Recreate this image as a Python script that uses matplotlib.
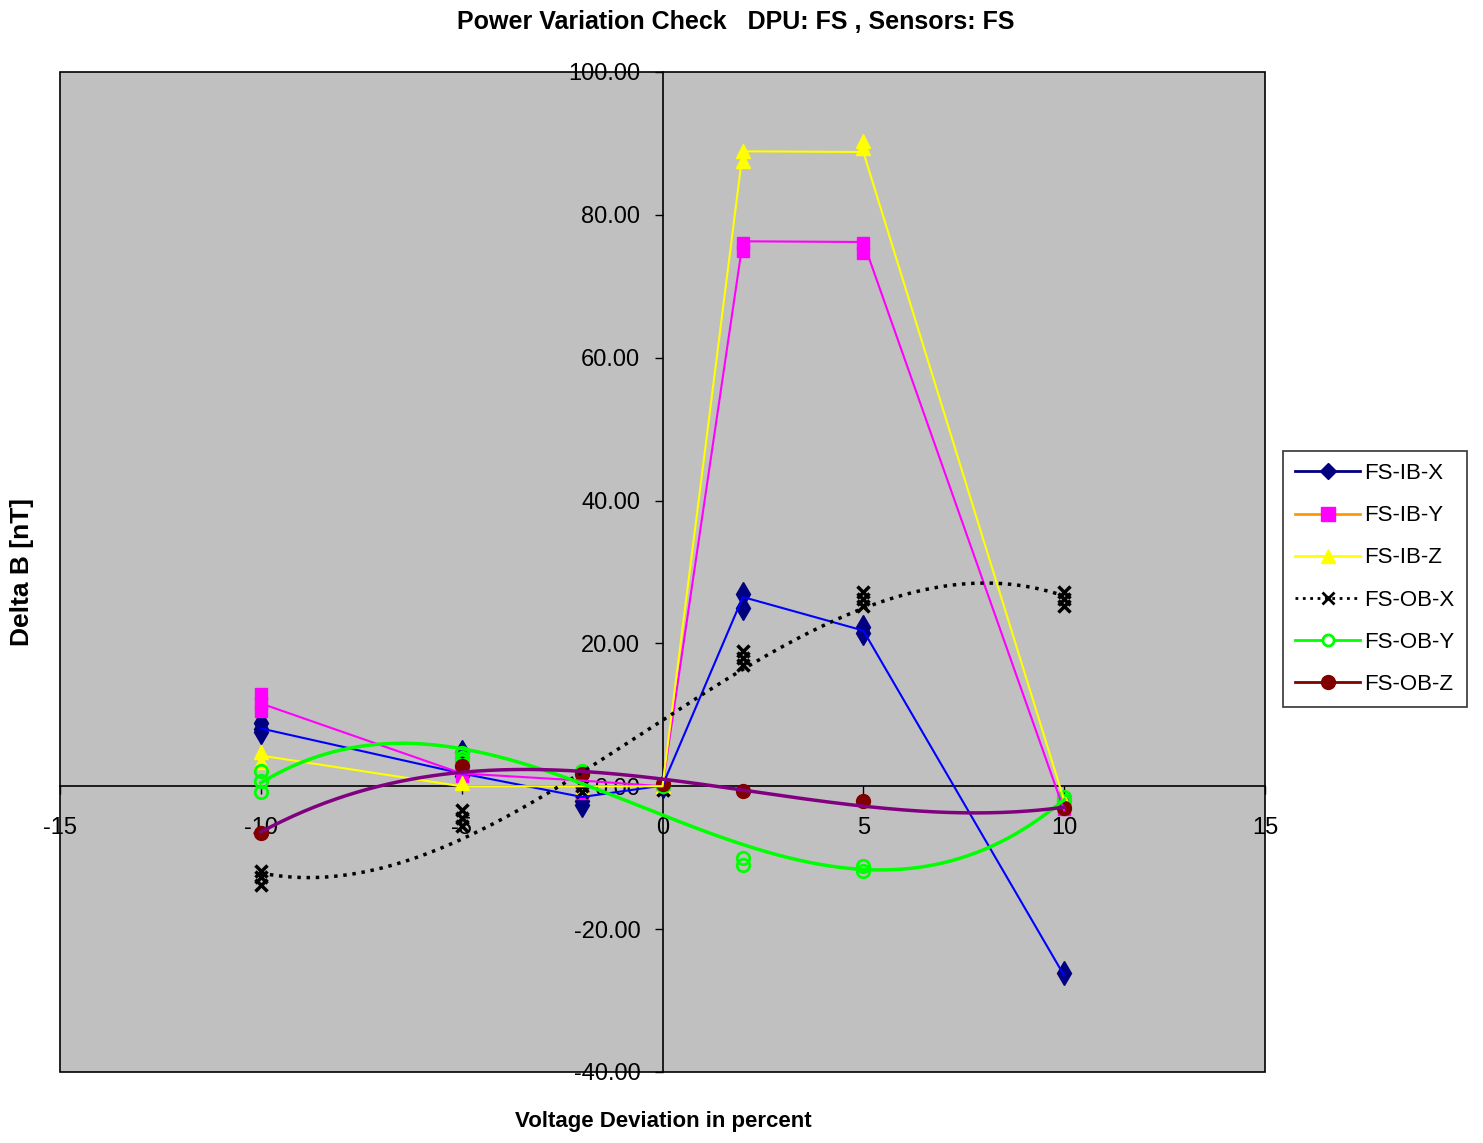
import numpy as np
import matplotlib
matplotlib.use("Agg")
import matplotlib.pyplot as plt
from matplotlib.lines import Line2D
from matplotlib.patches import Rectangle

# Voltage steps (percent) and the readings taken at each step
volt = [-10, -5, -2, 0, 2, 5, 10]

ib_x = [[8.8, 8.0, 7.6], [4.8, 1.5], [-2.0, -2.6], [0.0], [26.9, 24.9], [22.3, 21.4], [-26.2]]
ib_y = [[12.9, 11.7, 10.5], [1.5], [-1.0], [0.0], [76.0, 74.9], [76.0, 74.6], [-3.2, -2.5]]
ib_z = [[4.8, 3.4], [0.5], [-0.3], [0.0], [89.0, 87.6], [90.3, 89.3], [-2.0]]
ob_x = [[-11.8, -12.7, -13.8], [-3.3, -4.5, -5.5], [0.0, -0.8], [-0.5], [19.0, 18.0, 17.0], [27.2, 26.2, 25.3], [27.2, 26.2, 25.2]]
ob_y = [[2.2, 0.7, -0.8], [4.6, 4.0, 3.5], [2.1, 1.8], [0.0], [-10.1, -11.0], [-11.1, -11.8], [-1.5, -2.0]]
ob_z = [[-6.6], [2.8], [1.7], [0.3], [-0.6], [-2.1], [-3.1]]

# average lines drawn for the IB sensors
ib_x_avg = [8.1, 1.8, -1.5, 0.1, 26.5, 21.8, -26.5]
ib_y_avg = [11.6, 1.8, 0.8, 0.0, 76.3, 76.2, -3.4]
ib_z_avg = [4.3, 0.0, 0.0, 0.0, 88.9, 88.8, -2.0]


def flat(readings):
    xs, ys = [], []
    for v, vals in zip(volt, readings):
        xs += [v] * len(vals)
        ys += vals
    return np.array(xs, float), np.array(ys, float)


plt.rcParams['font.family'] = ['Liberation Sans', 'DejaVu Sans']
plt.rcParams['axes.unicode_minus'] = False

fig = plt.figure(figsize=(14.83, 11.43), dpi=100)
ax = fig.add_axes([60 / 1483, 1 - 1072 / 1143, 1205 / 1483, 1000 / 1143])
ax.set_facecolor('#C0C0C0')

# markers
styles = [
    (ib_x, dict(marker='d', color='#000080', ms=12, mec='#000080')),
    (ib_y, dict(marker='s', color='#FF00FF', ms=9, mec='#FF00FF')),
    (ib_z, dict(marker='^', color='#FFFF00', ms=10, mec='#FFFF00')),
    (ob_x, dict(marker='x', color='black', ms=9, mew=2.5)),
    (ob_y, dict(marker='o', color='#00FF00', ms=9, mfc='none', mew=2)),
    (ob_z, dict(marker='o', color='#800000', ms=10, mec='#800000')),
]
for data, st in styles:
    xs, ys = flat(data)
    ax.plot(xs, ys, linestyle='none', zorder=3, **st)

# averages
ax.plot(volt, ib_x_avg, color='#0000FF', lw=1.5, zorder=4)
ax.plot(volt, ib_y_avg, color='#FF00FF', lw=1.5, zorder=4)
ax.plot(volt, ib_z_avg, color='#FFFF00', lw=1.5, zorder=4)

# cubic trendlines for OB sensors
xx = np.linspace(-10, 10, 300)
for data, col, ls in [(ob_x, 'black', ':'), (ob_y, '#00FF00', '-'), (ob_z, '#800080', '-')]:
    xs, ys = flat(data)
    coef = np.polyfit(xs, ys, 3)
    ax.plot(xx, np.polyval(coef, xx), color=col, ls=ls, lw=2.5, zorder=4)

ax.set_xlim(-15, 15)
ax.set_ylim(-40, 100)
ax.set_xticks([-15, -10, -5, 0, 5, 10, 15])
ax.set_yticks(np.arange(-40, 101, 20))
ax.set_yticklabels([f"{v:.2f}" for v in np.arange(-40, 101, 20)])

ax.spines['left'].set_position(('data', 0))
ax.spines['bottom'].set_position(('data', 0))
ax.spines['top'].set_visible(False)
ax.spines['right'].set_visible(False)
for s in ['left', 'bottom']:
    ax.spines[s].set_linewidth(1.2)
ax.add_patch(Rectangle((0, 0), 1, 1, transform=ax.transAxes, fill=False,
                       edgecolor='black', lw=1.2, zorder=5, clip_on=False))
ax.tick_params(axis='both', labelsize=17, direction='out', length=6, width=1)
ax.tick_params(axis='x', pad=16)
ax.tick_params(axis='y', pad=10)

fig.text(0.496, 0.981, "Power Variation Check   DPU: FS , Sensors: FS",
         ha='center', va='center', fontsize=18, fontweight='bold')
fig.text(0.447, 0.019, "Voltage Deviation in percent", ha='center', va='center',
         fontsize=16, fontweight='bold')
fig.text(0.015, 0.5, "Delta B [nT]", rotation=90, ha='center', va='center',
         fontsize=19, fontweight='bold')

handles = [
    Line2D([], [], color='#000080', marker='D', ms=8, lw=2),
    Line2D([], [], color='#FF9900', marker='s', ms=10, mfc='#FF00FF', mec='#FF00FF', lw=2),
    Line2D([], [], color='#FFFF00', marker='^', ms=10, lw=2),
    Line2D([], [], color='black', marker='x', ms=9, mew=2, lw=2, ls=':'),
    Line2D([], [], color='#00FF00', marker='o', ms=8, mfc='white', mew=2, lw=2),
    Line2D([], [], color='#800000', marker='o', ms=10, lw=2),
]
labels = ['FS-IB-X', 'FS-IB-Y', 'FS-IB-Z', 'FS-OB-X', 'FS-OB-Y', 'FS-OB-Z']
leg = fig.legend(handles, labels, loc='center', bbox_to_anchor=(1375 / 1483, 1 - 579 / 1143),
                 fontsize=16, frameon=True, fancybox=False, edgecolor='black',
                 handlelength=2.9, labelspacing=0.95, handletextpad=0.2, borderpad=0.55)
leg.get_frame().set_linewidth(1.2)

fig.savefig('out.png', dpi=100)
